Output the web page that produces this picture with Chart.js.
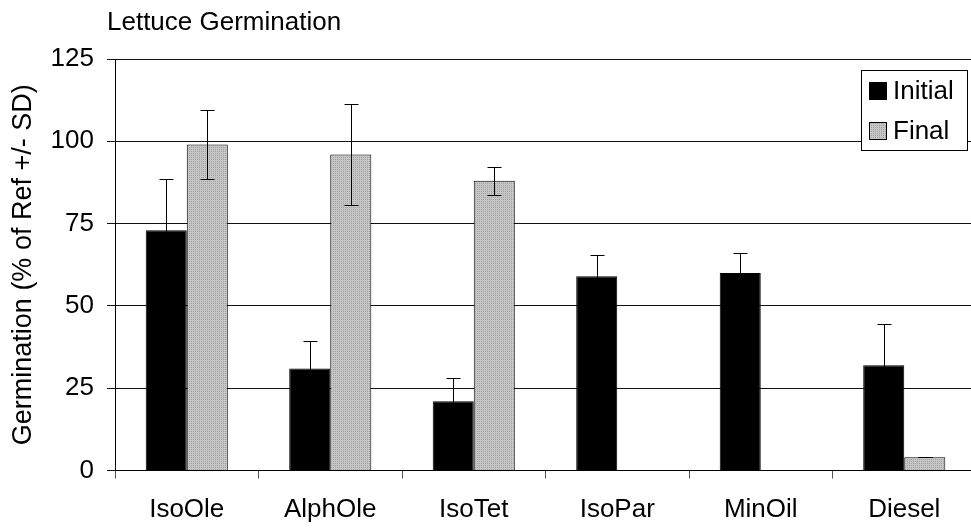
<!DOCTYPE html>
<html>
<head>
<meta charset="utf-8">
<script src="https://cdn.jsdelivr.net/npm/chart.js@4/dist/chart.umd.min.js"></script>
<style>
  html, body { margin: 0; padding: 0; background: #fff; overflow: hidden; }
  #wrap { width: 971px; height: 529px; overflow: hidden; }
</style>
</head>
<body>
<div id="wrap"><canvas id="chart" width="980" height="529"></canvas></div>
<script>
var titleText = "Lettuce Germination";
var yTitle = "Germination (% of Ref +/- SD)";
var categories = ["IsoOle", "AlphOle", "IsoTet", "IsoPar", "MinOil", "Diesel"];
var initial = [73, 31, 21, 59, 60, 32];
var initialSD = [15.5, 8.4, 7, 6.4, 6.2, 12.4];
var final = [99, 96, 88, null, null, 4];
var finalSD = [10.5, 15.2, 4.2, null, null, 0];
var yTicks = [0, 25, 50, 75, 100, 125];

var FONT = "'Liberation Sans', Arial, sans-serif";

// dotted light grey fill like the old spreadsheet pattern
function dotPattern() {
  var c = document.createElement('canvas');
  c.width = 2; c.height = 2;
  var g = c.getContext('2d');
  g.fillStyle = '#c6c6c6';
  g.fillRect(0, 0, 2, 2);
  g.fillStyle = '#a0a0a0';
  g.fillRect(1, 1, 1, 1);
  return g.createPattern(c, 'repeat');
}
var ctx = document.getElementById('chart').getContext('2d');
var grey = dotPattern();

var sds = [initialSD, finalSD];

var errorBars = {
  id: 'errorBars',
  afterDatasetsDraw: function(chart) {
    var c = chart.ctx, y = chart.scales.y;
    c.save();
    c.strokeStyle = '#000';
    c.lineWidth = 1;
    chart.data.datasets.forEach(function(ds, i) {
      var meta = chart.getDatasetMeta(i);
      meta.data.forEach(function(bar, j) {
        var v = ds.data[j], sd = sds[i][j];
        if (v == null || sd == null) return;
        var x = Math.round(bar.x) + 0.5;
        var top = Math.round(y.getPixelForValue(v + sd)) + 0.5;
        var bot = Math.round(y.getPixelForValue(v - sd)) + 0.5;
        c.beginPath();
        c.moveTo(x, top); c.lineTo(x, bot);
        c.moveTo(x - 7, top); c.lineTo(x + 7, top);
        c.moveTo(x - 7, bot); c.lineTo(x + 7, bot);
        c.stroke();
      });
    });
    c.restore();
  }
};

var extras = {
  id: 'extras',
  afterDraw: function(chart) {
    var c = chart.ctx;
    c.save();
    c.fillStyle = '#000';
    c.font = '26px ' + FONT;
    c.textBaseline = 'alphabetic';
    c.textAlign = 'left';
    c.fillText(titleText, 107, 30);

    // legend box inside the plot
    c.fillStyle = '#fff';
    c.fillRect(861, 70, 106, 80);
    c.strokeStyle = '#000';
    c.lineWidth = 1;
    c.strokeRect(861.5, 70.5, 106, 80);
    var rows = [82, 122];
    chart.data.datasets.forEach(function(ds, i) {
      var top = rows[i];
      c.fillStyle = ds.backgroundColor;
      c.fillRect(869, top, 17, 17);
      c.strokeStyle = '#000';
      c.strokeRect(869.5, top + 0.5, 17, 17);
      c.fillStyle = '#000';
      c.textBaseline = 'middle';
      c.fillText(ds.label, 893, top + 10);
    });
    c.restore();
  }
};

new Chart(ctx, {
  type: 'bar',
  data: {
    labels: categories,
    datasets: [{
      label: "Initial",
      data: initial,
      backgroundColor: '#000',
      borderColor: '#000',
      borderWidth: 1
    }, {
      label: "Final",
      data: final,
      backgroundColor: grey,
      borderColor: '#000',
      borderWidth: 1
    }]
  },
  options: {
    responsive: false,
    animation: false,
    layout: { padding: { top: 59, right: 4, bottom: 0, left: 0 } },
    datasets: { bar: { categoryPercentage: 0.572, barPercentage: 1.0 } },
    plugins: {
      legend: { display: false },
      title: { display: false },
      tooltip: { enabled: false }
    },
    scales: {
      x: {
        afterFit: function(s) { s.height = 58.5; },
        grid: { offset: true, drawOnChartArea: false, drawTicks: true, tickLength: 8, color: '#555' },
        border: { display: true, color: '#000', width: 1 },
        ticks: { color: '#000', padding: 16, font: { family: FONT, size: 26 } }
      },
      y: {
        min: 0,
        max: 125,
        afterFit: function(s) { s.width = 115; },
        afterBuildTicks: function(s) { s.ticks = yTicks.map(function(v) { return { value: v }; }); },
        grid: { color: '#111', tickLength: 8, drawTicks: true },
        border: { display: true, color: '#000', width: 1 },
        ticks: { color: '#000', padding: 13, font: { family: FONT, size: 26 } },
        title: {
          display: true,
          text: yTitle,
          color: '#000',
          padding: { top: 7, bottom: 10 },
          font: { family: FONT, size: 27 }
        }
      }
    }
  },
  plugins: [errorBars, extras]
});
</script>
</body>
</html>
